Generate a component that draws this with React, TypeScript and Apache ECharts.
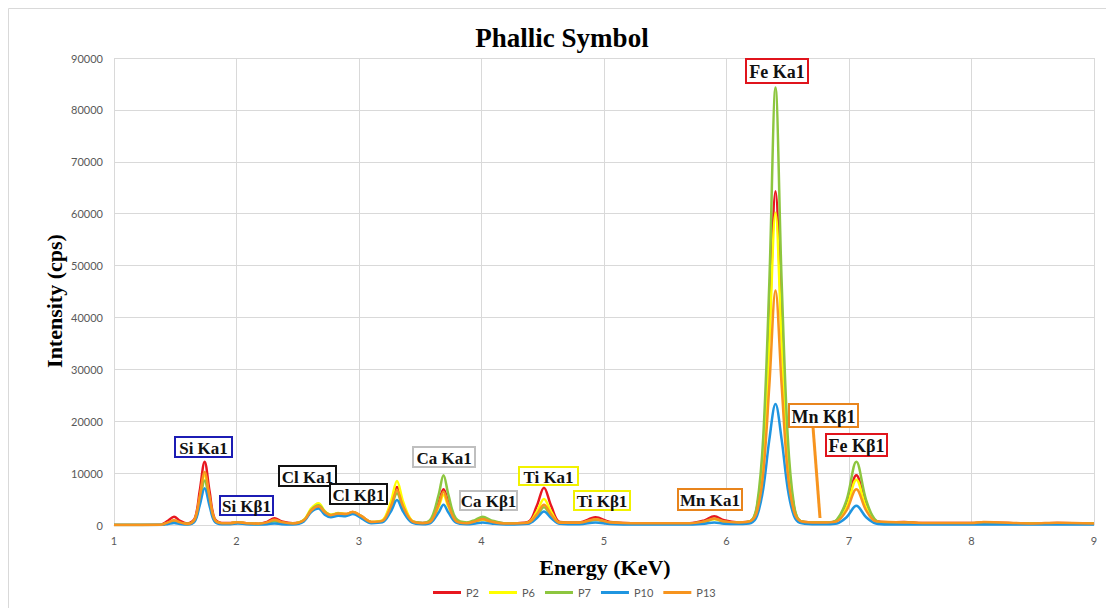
import React, { useEffect, useRef } from "react";
import * as echarts from "echarts";

// Energy grid (keV), shared by all series, grouped by spectral region
const energy = [
  1.0, 1.38, 1.44, 1.49, 1.54, 1.6,
  1.66, 1.7, 1.74, 1.78, 1.82, 1.88,
  1.95, 2.01, 2.08, 2.18, 2.25, 2.31, 2.37, 2.46,
  2.55, 2.61, 2.67, 2.72, 2.77, 2.83, 2.89, 2.95, 3.02, 3.1,
  3.19, 3.26, 3.31, 3.36, 3.43, 3.52,
  3.59, 3.65, 3.69, 3.73, 3.79, 3.88,
  3.95, 4.01, 4.08, 4.2,
  4.38, 4.45, 4.51, 4.57, 4.64, 4.8, 4.93, 5.05, 5.3,
  5.7, 5.82, 5.9, 5.98, 6.1,
  6.2, 6.25, 6.3, 6.35, 6.4, 6.45, 6.5, 6.55, 6.6, 6.7,
  6.82, 6.9, 6.98, 7.06, 7.14, 7.22,
  7.32, 7.45, 7.6, 8.0, 8.1, 8.5, 8.7, 9.0,
];

const p2 = [
  0, 50, 800, 1600, 800, 300,
  1300, 6600, 12200, 6500, 1300, 400,
  400, 550, 350, 250, 600, 1300, 700, 350,
  900, 2700, 3500, 2500, 1900, 2200, 2100, 2500, 1700, 600,
  800, 3900, 7300, 3900, 800, 400,
  1000, 4300, 6900, 4300, 1000, 400,
  800, 1200, 700, 300,
  600, 3600, 7200, 3600, 600, 500, 1500, 600, 350,
  350, 900, 1700, 900, 500,
  800, 3500, 13500, 38000, 64300, 38000, 13500, 3500, 800, 500,
  500, 900, 3800, 9600, 3800, 800,
  500, 600, 400, 400, 500, 300, 400, 300,
];

const p6 = [
  0, 30, 400, 800, 400, 200,
  1100, 5100, 9600, 5000, 1100, 350,
  350, 500, 300, 200, 400, 800, 450, 300,
  1000, 3200, 4200, 2700, 2000, 2300, 2100, 2500, 1700, 600,
  900, 4500, 8500, 4500, 900, 350,
  800, 3500, 5800, 3500, 800, 350,
  600, 1000, 600, 250,
  450, 2500, 5000, 2500, 450, 400, 1000, 450, 300,
  300, 600, 1100, 600, 450,
  800, 3300, 12500, 35500, 60200, 35500, 12500, 3300, 800, 450,
  450, 800, 3400, 8700, 3400, 700,
  450, 450, 350, 350, 400, 300, 350, 300,
];

const p7 = [
  0, 30, 400, 700, 400, 200,
  900, 4600, 8600, 4500, 900, 300,
  300, 500, 300, 200, 400, 700, 400, 300,
  900, 2900, 3800, 2600, 1900, 2200, 2000, 2400, 1600, 550,
  700, 3300, 6100, 3300, 700, 400,
  1300, 5800, 9600, 5800, 1300, 500,
  1000, 1600, 900, 300,
  400, 1700, 3400, 1700, 400, 400, 1000, 450, 300,
  300, 650, 1200, 650, 450,
  800, 4000, 17000, 47000, 84300, 47000, 17000, 4000, 800, 500,
  500, 1000, 4800, 12200, 4800, 900,
  450, 450, 350, 350, 400, 300, 350, 300,
];

const p10 = [
  0, 0, 200, 400, 200, 100,
  700, 3800, 7100, 3700, 700, 150,
  150, 300, 150, 100, 150, 300, 150, 100,
  700, 2500, 3200, 2000, 1500, 1800, 1700, 2100, 1300, 350,
  500, 2600, 4800, 2600, 500, 150,
  500, 2400, 3900, 2400, 500, 150,
  300, 500, 300, 100,
  250, 1300, 2600, 1300, 250, 150, 500, 200, 100,
  100, 250, 500, 250, 200,
  400, 1800, 7000, 16500, 23300, 16500, 7000, 1800, 400, 150,
  150, 300, 1500, 3700, 1500, 300,
  100, 100, 80, 80, 100, 80, 80, 80,
];

const p13 = [
  0, 30, 500, 900, 500, 200,
  1100, 5500, 10200, 5400, 1100, 350,
  350, 550, 350, 250, 500, 1000, 550, 300,
  900, 2800, 3600, 2500, 1900, 2200, 2100, 2500, 1700, 600,
  800, 3600, 6700, 3600, 800, 350,
  800, 3900, 6400, 3900, 800, 350,
  700, 1100, 650, 300,
  450, 2000, 3900, 2000, 450, 450, 1100, 500, 350,
  350, 700, 1200, 700, 500,
  800, 2700, 10000, 27000, 45200, 27000, 10000, 2700, 800, 500,
  500, 700, 2800, 6900, 2800, 700,
  600, 500, 400, 400, 600, 300, 450, 300,
];

const seriesNames = ["P2", "P6", "P7", "P10", "P13"];
const seriesValues = [p2, p6, p7, p10, p13];
const seriesColors = ["#e8171f", "#ffff00", "#8dc63f", "#1f95e0", "#f7941e"];

const xTicks = [1, 9, 1]; // min, max, step
const yTicks = [0, 90000, 10000];

// Peak annotation labels
const peakLabels = [
  "Si Ka1", "Si Kβ1", "Cl Ka1", "Cl Kβ1", "Ca Ka1", "Ca Kβ1",
  "Ti Ka1", "Ti Kβ1", "Mn Ka1", "Fe Ka1", "Mn Kβ1", "Fe Kβ1",
];
const labelColors = [
  "#1c1cb4", "#1c1cb4", "#111111", "#111111", "#bfbfbf", "#bfbfbf",
  "#f2f200", "#f2f200", "#e8841c", "#e0141c", "#e8841c", "#e0141c",
];
// layout of the label boxes (pixels): x, y, w, h, fontSize
const labelBoxes = [
  [175, 437, 57, 20, 17], [220, 496, 53, 19, 17], [279, 466, 57, 20, 17], [330, 484, 57, 20, 17],
  [413, 447, 62, 20, 17], [460, 491, 57, 19, 17], [519, 467, 59, 18, 17], [574, 491, 56, 19, 17],
  [678, 489, 64, 21, 17], [746, 59, 62, 24, 18], [789, 404, 69, 23, 18], [826, 434, 61, 22, 18],
];

const SERIF = '"Liberation Serif", "DejaVu Serif", serif';
const SANS = 'Lato, "Liberation Sans", sans-serif';

export default function App() {
  const ref = useRef<HTMLDivElement>(null);
  useEffect(() => {
    if (!ref.current) return;
    const chart = echarts.init(ref.current, null, { renderer: "svg" });

    const graphics: any[] = [
      {
        type: "rect",
        shape: { x: 8.5, y: 8.5, width: 1110, height: 610 },
        style: { fill: "none", stroke: "#d9d9d9", lineWidth: 1 },
        silent: true,
      },
      {
        type: "text",
        style: { text: "Phallic Symbol", x: 562, y: 38, align: "center", verticalAlign: "middle", font: `bold 27px ${SERIF}`, fill: "#000" },
      },
      {
        type: "text",
        rotation: Math.PI / 2,
        x: 54,
        y: 301,
        style: { text: "Intensity (cps)", x: 0, y: 0, align: "center", verticalAlign: "middle", font: `bold 22px ${SERIF}`, fill: "#000" },
      },
      {
        type: "text",
        style: { text: "Energy (KeV)", x: 605, y: 567, align: "center", verticalAlign: "middle", font: `bold 22px ${SERIF}`, fill: "#000" },
      },
      {
        type: "line",
        shape: { x1: 813, y1: 427, x2: 820, y2: 518 },
        style: { stroke: "#f7941e", lineWidth: 3 },
        z: 10,
      },
    ];
    peakLabels.forEach((t, i) => {
      const [x, y, w, h, fs] = labelBoxes[i];
      graphics.push({
        type: "rect",
        shape: { x, y, width: w, height: h },
        style: { fill: "#fff", stroke: labelColors[i], lineWidth: 2 },
        z: 10,
      });
      graphics.push({
        type: "text",
        style: { text: t, x: x + w / 2, y: y + h / 2 + 1, align: "center", verticalAlign: "middle", font: `bold ${fs}px ${SERIF}`, fill: "#111" },
        z: 11,
      });
    });

    chart.setOption({
      animation: false,
      backgroundColor: "#fff",
      grid: { left: 114, right: 12, top: 58, bottom: 83, containLabel: false },
      legend: {
        left: 428,
        top: 582,
        icon: "rect",
        itemWidth: 28,
        itemHeight: 3,
        itemGap: 10,
        textStyle: { color: "#595959", fontSize: 11, fontFamily: SANS },
        data: seriesNames,
      },
      xAxis: {
        type: "value",
        min: xTicks[0],
        max: xTicks[1],
        interval: xTicks[2],
        axisLine: { lineStyle: { color: "#d9d9d9", width: 1 } },
        axisTick: { show: false },
        axisLabel: { color: "#595959", fontSize: 11, fontFamily: SANS, margin: 10 },
        splitLine: { show: true, lineStyle: { color: "#d9d9d9", width: 1 } },
      },
      yAxis: {
        type: "value",
        min: yTicks[0],
        max: yTicks[1],
        interval: yTicks[2],
        axisLine: { show: false },
        axisTick: { show: false },
        axisLabel: { color: "#595959", fontSize: 11, fontFamily: SANS, margin: 11, formatter: (v: number) => String(v) },
        splitLine: { show: true, lineStyle: { color: "#d9d9d9", width: 1 } },
      },
      series: seriesNames.map((name, i) => ({
        name,
        type: "line",
        smooth: 0.35,
        showSymbol: false,
        symbol: "none",
        color: seriesColors[i],
        lineStyle: { width: 2.5, color: seriesColors[i] },
        data: energy.map((e, k) => [e, seriesValues[i][k]]),
      })),
      graphic: graphics,
    });
    return () => chart.dispose();
  }, []);
  return <div ref={ref} style={{ position: "absolute", left: 0, top: 0, width: 1106, height: 608 }} />;
}
